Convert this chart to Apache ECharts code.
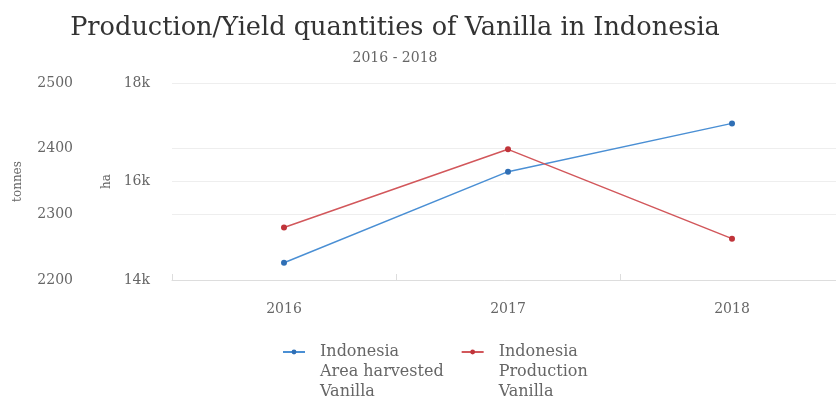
<!DOCTYPE html>
<html>
<head>
<meta charset="utf-8">
<script src="https://cdn.jsdelivr.net/npm/echarts@6/dist/echarts.min.js"></script>
<style>
html, body { margin: 0; padding: 0; background: #fff; }
#chartContainer { width: 836px; height: 401px; }
</style>
</head>
<body>
<div id="chartContainer"></div>
<script>
var years = ['2016', '2017', '2018'];
var areaHarvested = [14350, 16200, 17180];   // ha
var production = [2280, 2399, 2263];         // tonnes
var tonnesTicks = [2200, 2500, 100];         // min, max, interval
var haTicks = [14000, 18000, 2000];

function Set_Vanilla_echarts(){
    var chartContainer = document.getElementById('chartContainer');
    var myChart = echarts.init(chartContainer, null, {
    renderer: 'canvas',
    useDirtyRect: false
    });

    var font = 'DejaVu Serif';
    var option;

    option = {
    backgroundColor: '#fff',
    animation: false,
    title: {
    text: 'Production/Yield quantities of Vanilla in Indonesia',
    subtext: '2016 - 2018',
    left: 390,
    top: 10,
    textAlign: 'center',
    itemGap: 10,
    textStyle: {
        fontFamily: font,
        fontWeight: 'normal',
        fontSize: 25.6,
        color: '#333'
    },
    subtextStyle: {
        fontFamily: font,
        fontSize: 14,
        color: '#666'
    }
    },
    legend: {
    top: 297,
    left: 277,
    itemWidth: 22,
    itemHeight: 6,
    itemGap: 17,
    data: ['Indonesia\nArea harvested\nVanilla', 'Indonesia\nProduction\nVanilla'],
    // blank lines on top so the icon sits beside the first line
    formatter: function (name) { return '\n\n' + name; },
    textStyle: {
        fontFamily: font,
        fontSize: 16,
        lineHeight: 20,
        color: '#666',
        padding: [0, 0, 0, 10]
    }
    },
    grid: {
    left: 172,
    top: 83,
    width: 672,
    height: 197,
    outerBoundsMode: 'none'
    },
    xAxis: [
    {
    type: 'category',
    data: years,
    axisLine: { lineStyle: { color: '#ddd' } },
    axisTick: { show: true, inside: true, length: 6, lineStyle: { color: '#ddd' } },
    axisLabel: {
        fontFamily: font,
        fontSize: 14,
        color: '#666',
        margin: 22
    },
    splitLine: { show: false }
    }
    ],
    yAxis: [
    {
    type: 'value',
    name: 'tonnes',
    nameLocation: 'middle',
    nameGap: 57,
    nameTextStyle: { fontFamily: font, fontSize: 12, color: '#666' },
    position: 'left',
    offset: 91,
    min: tonnesTicks[0],
    max: tonnesTicks[1],
    interval: tonnesTicks[2],
    axisLine: { show: false },
    axisTick: { show: false },
    axisLabel: {
        fontFamily: font,
        fontSize: 14,
        color: '#666',
        margin: 8,
        formatter: function (v) { return String(v); }
    },
    splitLine: { show: true, lineStyle: { color: '#eee' } }
    },
    {
    type: 'value',
    name: 'ha',
    nameLocation: 'middle',
    nameGap: 58,
    nameTextStyle: { fontFamily: font, fontSize: 12, color: '#666' },
    position: 'left',
    offset: 0,
    min: haTicks[0],
    max: haTicks[1],
    interval: haTicks[2],
    axisLine: { show: false },
    axisTick: { show: false },
    axisLabel: {
        fontFamily: font,
        fontSize: 14,
        color: '#666',
        margin: 22,
        formatter: function (v) { return (v / 1000) + 'k'; }
    },
    splitLine: { show: true, lineStyle: { color: '#eee' } }
    }
    ],
    series: [
    {
    name: 'Indonesia\nArea harvested\nVanilla',
    type: 'line',
    yAxisIndex: 1,
    symbol: 'circle',
    symbolSize: 6,
    data: areaHarvested,
    itemStyle: { color: '#2f6fb5' },
    lineStyle: { color: '#4a8fd4', width: 1.5 }
    },
    {
    name: 'Indonesia\nProduction\nVanilla',
    type: 'line',
    yAxisIndex: 0,
    symbol: 'circle',
    symbolSize: 6,
    data: production,
    itemStyle: { color: '#c0343a' },
    lineStyle: { color: '#d2575b', width: 1.5 }
    }
    ]
    };

    if (option && typeof option === 'object') {
    myChart.setOption(option);
    }

    window.addEventListener('resize', myChart.resize);
}
Set_Vanilla_echarts();
</script>
</body>
</html>
